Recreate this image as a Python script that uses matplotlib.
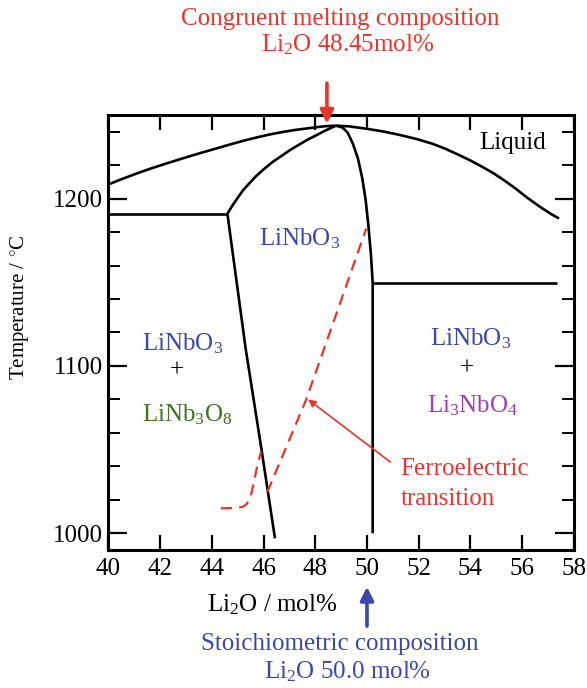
import matplotlib
matplotlib.use("Agg")
import matplotlib.pyplot as plt

plt.rcParams["font.family"] = "Liberation Serif"
plt.rcParams["mathtext.fontset"] = "custom"
plt.rcParams["mathtext.rm"] = "Liberation Serif"
plt.rcParams["mathtext.it"] = "Liberation Serif:italic"
plt.rcParams["mathtext.default"] = "rm"

# Li2O content (mol%) / temperature (deg C) along each phase boundary
liq_left_x = [40.0, 40.5, 41.0, 41.6, 42.22, 42.9, 43.5, 44.2, 44.8, 45.3, 45.8,
              46.25, 46.73, 47.2, 47.7, 48.1, 48.4, 48.8]
liq_left_t = [1208.5, 1211.6, 1214.5, 1217.8, 1220.9, 1224.2, 1227.0, 1230.1, 1232.8,
              1234.9, 1236.8, 1238.4, 1239.8, 1241.0, 1242.0, 1242.8, 1243.3, 1243.6]
liq_right_x = [48.8, 49.3, 49.97, 50.6, 51.2, 51.9, 52.53, 53.0, 53.5, 54.0, 54.47,
               54.9, 55.3, 55.75, 56.16, 56.5, 56.8, 57.1, 57.43]
liq_right_t = [1243.6, 1243.2, 1241.8, 1240.2, 1238.3, 1235.7, 1232.8, 1230.0, 1226.5,
               1222.8, 1218.9, 1215.1, 1211.0, 1206.0, 1201.0, 1197.2, 1194.0, 1191.0, 1188.1]

sol_left_x = [44.6, 44.8, 45.0, 45.2, 45.44, 45.7, 46.0, 46.35, 46.73, 47.05, 47.4,
              47.7, 48.03, 48.3, 48.5, 48.8]
sol_left_t = [1191.0, 1196.0, 1200.5, 1204.9, 1209.0, 1213.3, 1217.5, 1221.9, 1225.9,
              1229.3, 1232.5, 1235.2, 1237.8, 1240.0, 1241.5, 1243.6]
sol_right_x = [48.8, 49.05, 49.25, 49.45, 49.65, 49.82, 49.95, 50.06, 50.15, 50.2,
               50.22, 50.22]
sol_right_t = [1243.6, 1242.5, 1239.5, 1233.0, 1224.0, 1212.0, 1199.0, 1183.0, 1167.0,
               1155.0, 1149.3, 1000.0]

solvus_left_x = [44.6, 45.31, 45.92, 46.44]
solvus_left_t = [1191.0, 1110.0, 1050.0, 997.0]

eutectic_left_x = [40.0, 44.6]
eutectic_left_t = [1191.0, 1191.0]
eutectic_right_x = [50.22, 57.35]
eutectic_right_t = [1149.3, 1149.3]

# Curie temperature (ferroelectric transition), two dashed pieces
curie_a_x = [44.35, 44.8, 45.18, 45.35, 45.5, 45.62, 45.75, 45.9]
curie_a_t = [1014.9, 1015.1, 1015.7, 1017.5, 1022.0, 1030.0, 1040.0, 1048.7]
curie_b_x = [46.15, 47.64, 49.0, 49.97]
curie_b_t = [1024.8, 1079.6, 1139.3, 1182.1]

congruent_x = 48.45
stoich_x = 50.0

RED = "#e8352c"
BLUE = "#3a48ad"
GREEN = "#3c7424"
PURPLE = "#9d3cbf"

fig = plt.figure(figsize=(5.87, 6.88), dpi=100)
ax = fig.add_axes([0.1848, 0.2006, 0.7927, 0.6323])

lw = 1.9
for xs, ts in [(liq_left_x, liq_left_t), (liq_right_x, liq_right_t),
               (sol_left_x, sol_left_t), (sol_right_x, sol_right_t),
               (solvus_left_x, solvus_left_t),
               (eutectic_left_x, eutectic_left_t), (eutectic_right_x, eutectic_right_t)]:
    ax.plot(xs, ts, color="black", lw=lw, solid_capstyle="butt", solid_joinstyle="round")

for xs, ts in [(curie_a_x, curie_a_t), (curie_b_x, curie_b_t)]:
    ax.plot(xs, ts, color=RED, lw=1.6, dashes=(5, 3.2))

ax.set_xlim(40, 58)
ax.set_ylim(990, 1250)
ax.set_xticks(range(40, 59, 2))
ax.set_yticks([1000, 1100, 1200])
ax.set_yticks(range(1000, 1250, 20), minor=True)
ax.tick_params(axis="x", which="major", direction="in", top=True, length=11, width=1.6,
               labelsize=18, pad=6)
ax.tick_params(axis="y", which="major", direction="in", right=True, length=14, width=1.6,
               labelsize=18, pad=4)
ax.tick_params(axis="y", which="minor", direction="in", right=True, length=8.5, width=1.4)
for sp in ax.spines.values():
    sp.set_linewidth(2.2)

# phase field labels
fs = 18
ax.text(55.65, 1233, "Liquid", fontsize=fs, ha="center", va="center")
ax.text(47.4, 1176, "LiNbO$_3$", fontsize=fs, color=BLUE, ha="center", va="center")
ax.text(42.85, 1113, "LiNbO$_3$", fontsize=fs, color=BLUE, ha="center", va="center")
ax.text(42.63, 1097.5, "+", fontsize=fs, ha="center", va="center")
ax.text(43.05, 1071, "LiNb$_3$O$_8$", fontsize=fs, color=GREEN, ha="center", va="center")
ax.text(54.0, 1116, "LiNbO$_3$", fontsize=fs, color=BLUE, ha="center", va="center")
ax.text(53.86, 1098.5, "+", fontsize=fs, ha="center", va="center")
ax.text(54.07, 1076, "Li$_3$NbO$_4$", fontsize=fs, color=PURPLE, ha="center", va="center")
ax.text(51.3, 1038.4, "Ferroelectric", fontsize=fs, color=RED, ha="left", va="center")
ax.text(51.3, 1020.5, "transition", fontsize=fs, color=RED, ha="left", va="center")

ax.annotate("", xy=(47.72, 1080), xytext=(50.9, 1042.6),
            arrowprops=dict(arrowstyle="-|>", color=RED, lw=1.2, mutation_scale=11,
                            shrinkA=0, shrinkB=0))

# composition arrows above and below the axes
ax.annotate("", xy=(congruent_x, 1244.8), xytext=(congruent_x, 1269),
            annotation_clip=False,
            arrowprops=dict(arrowstyle="-|>", color=RED, lw=2.6, mutation_scale=20,
                            shrinkA=0, shrinkB=0))
ax.annotate("", xy=(stoich_x, 968), xytext=(stoich_x, 944.5),
            annotation_clip=False,
            arrowprops=dict(arrowstyle="-|>", color=BLUE, lw=2.6, mutation_scale=20,
                            shrinkA=0, shrinkB=0))

W, H = 587, 688
fig.text(340 / W, 1 - 19 / H, "Congruent melting composition", fontsize=18, color=RED,
         ha="center", va="center")
fig.text(348 / W, 1 - 45 / H, f"Li$_2$O {congruent_x}mol%", fontsize=18, color=RED,
         ha="center", va="center")
fig.text(272 / W, 1 - 605 / H, "Li$_2$O / mol%", fontsize=18, ha="center", va="center")
fig.text(340 / W, 1 - 644 / H, "Stoichiometric composition", fontsize=18, color=BLUE,
         ha="center", va="center")
fig.text(347 / W, 1 - 672 / H, f"Li$_2$O {stoich_x:.1f} mol%", fontsize=18, color=BLUE,
         ha="center", va="center")
fig.text(20 / W, 1 - 307 / H, "Temperature / $^{\\circ}$C", fontsize=15, rotation=90,
         ha="center", va="center")

fig.savefig("out.png", dpi=100)
